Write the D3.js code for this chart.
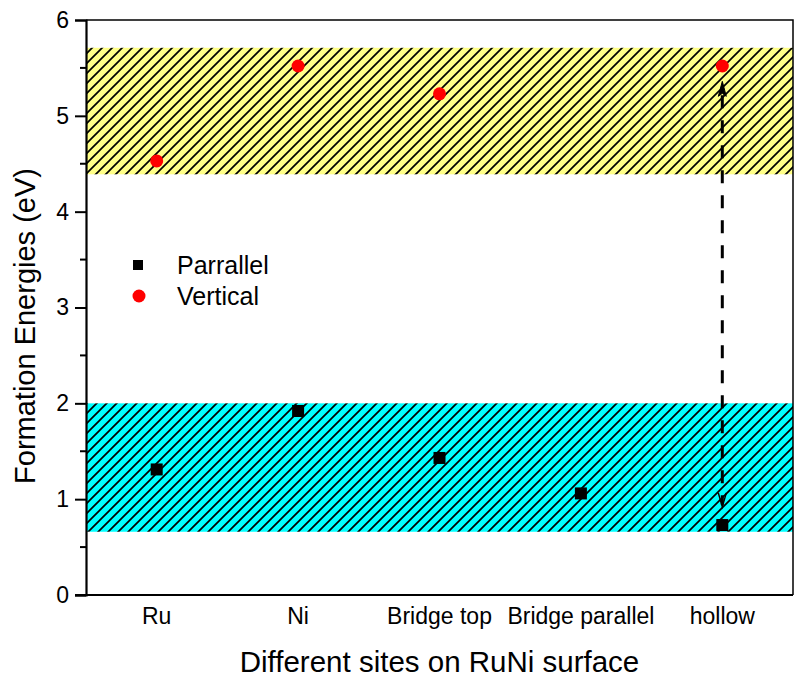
<!DOCTYPE html>
<html>
<head>
<meta charset="utf-8">
<script src="https://cdn.jsdelivr.net/npm/d3@7"></script>
<style>
  body { margin: 0; background: #fff; }
  svg { display: block; font-family: "Liberation Sans", Arial, sans-serif; }
</style>
</head>
<body>
<div id="display"></div>
<script>
// chart values
const sites = ["Ru", "Ni", "Bridge top", "Bridge parallel", "hollow"]
const parallelValues = [1.31, 1.92, 1.43, 1.06, 0.73]
const verticalSites = ["Ru", "Ni", "Bridge top", "hollow"]
const verticalValues = [4.53, 5.52, 5.23, 5.52]
const bands = [
  { lo: 4.39, hi: 5.71, color: "#ffff88" },
  { lo: 0.66, hi: 2.0, color: "#00ffff" }
]
const arrowSite = "hollow"
const arrowLo = 0.92
const arrowHi = 5.36
const yTicks = [0, 1, 2, 3, 4, 5, 6]
const yMinorTicks = [0.5, 1.5, 2.5, 3.5, 4.5, 5.5]

const width = 795, height = 686
const margin = { top: 20, right: 2, bottom: 91, left: 86 }

const svg = d3.select("#display").append("svg")
  .attr("width", width)
  .attr("height", height)

const x = d3.scaleBand().domain(sites).range([margin.left, width - margin.right]).padding(0)
const y = d3.scaleLinear().domain([0, 6]).range([height - margin.bottom, margin.top])
const cx = d => x(d) + x.bandwidth() / 2

const defs = svg.append("defs")
bands.forEach((b, i) => {
  const p = defs.append("pattern")
    .attr("id", "hatch" + i)
    .attr("patternUnits", "userSpaceOnUse")
    .attr("width", 10).attr("height", 10)
  p.append("rect").attr("width", 10).attr("height", 10).attr("fill", b.color)
  p.append("path")
    .attr("d", "M-2,2 l4,-4 M0,10 l10,-10 M8,12 l4,-4")
    .attr("stroke", "#000").attr("stroke-width", 1.7)
})

// shaded bands
svg.selectAll("rect.band")
  .data(bands)
  .enter()
  .append("rect")
    .classed("band", true)
    .attr("x", margin.left)
    .attr("width", width - margin.right - margin.left)
    .attr("y", d => y(d.hi))
    .attr("height", d => y(d.lo) - y(d.hi))
    .attr("fill", (d, i) => `url(#hatch${i})`)

// dashed double arrow
const ax = cx(arrowSite)
const yTop = y(arrowHi), yBot = y(arrowLo)
svg.append("line")
  .attr("x1", ax).attr("x2", ax)
  .attr("y1", yTop + 14).attr("y2", yBot - 2)
  .attr("stroke", "#000").attr("stroke-width", 3)
  .attr("stroke-dasharray", "13,12")
svg.append("path")
  .attr("d", `M${ax},${yTop} L${ax + 4},${yTop + 15} L${ax},${yTop + 12} L${ax - 4},${yTop + 15} Z`)
  .attr("fill", "#000").attr("stroke", "#000").attr("stroke-width", 1)
svg.append("path")
  .attr("d", `M${ax - 4},${yBot - 14} L${ax},${yBot} L${ax + 4},${yBot - 14}`)
  .attr("fill", "none").attr("stroke", "#000").attr("stroke-width", 1.5)

// frame
svg.append("path")
  .attr("d", `M${margin.left},${margin.top} H${width - margin.right} V${height - margin.bottom}`)
  .attr("fill", "none").attr("stroke", "#000").attr("stroke-width", 1.5)

// y axis
const yAxis = svg.append("g")
  .attr("transform", `translate(${margin.left},0)`)
  .call(d3.axisLeft(y).tickValues(yTicks).tickFormat(d3.format("d")).tickSize(11).tickPadding(6))
yAxis.select(".domain").attr("stroke-width", 2.2)
yAxis.selectAll(".tick line").attr("stroke-width", 2)
yAxis.selectAll("text").attr("font-size", 23).attr("fill", "#000")
  .style("font-family", "Liberation Sans, Arial, sans-serif")
yAxis.selectAll("line.minor")
  .data(yMinorTicks)
  .enter()
  .append("line")
    .classed("minor", true)
    .attr("x1", -6).attr("x2", 0)
    .attr("y1", d => y(d)).attr("y2", d => y(d))
    .attr("stroke", "#000").attr("stroke-width", 2)

// x axis
const xAxis = svg.append("g")
  .attr("transform", `translate(0,${height - margin.bottom})`)
  .call(d3.axisBottom(x).tickSize(0).tickPadding(13))
xAxis.select(".domain").attr("stroke-width", 2.2)
  .attr("d", `M${margin.left - 11},0H${width - margin.right}`)
xAxis.selectAll("text").attr("font-size", 23).attr("fill", "#000")
  .style("font-family", "Liberation Sans, Arial, sans-serif")

// points
svg.selectAll("rect.parallel")
  .data(parallelValues)
  .enter()
  .append("rect")
    .classed("parallel", true)
    .attr("x", (d, i) => cx(sites[i]) - 6)
    .attr("y", d => y(d) - 6)
    .attr("width", 12).attr("height", 12)
    .attr("fill", "#000")

svg.selectAll("circle.vertical")
  .data(verticalValues)
  .enter()
  .append("circle")
    .classed("vertical", true)
    .attr("cx", (d, i) => cx(verticalSites[i]))
    .attr("cy", d => y(d))
    .attr("r", 6.5)
    .attr("fill", "#ff0000")

// legend
const legend = svg.append("g").attr("transform", "translate(138,265)")
legend.append("rect").attr("x", -5).attr("y", -5).attr("width", 10).attr("height", 10).attr("fill", "#000")
legend.append("circle").attr("cx", 1).attr("cy", 31).attr("r", 6.5).attr("fill", "#ff0000")
legend.append("text").attr("x", 39).attr("y", 9).attr("font-size", 25).text("Parrallel")
legend.append("text").attr("x", 39).attr("y", 40).attr("font-size", 25).text("Vertical")

// axis titles
svg.append("text")
  .attr("x", (margin.left + width - margin.right) / 2)
  .attr("y", 672)
  .attr("text-anchor", "middle")
  .attr("font-size", 29.5)
  .text("Different sites on RuNi surface")

svg.append("text")
  .attr("transform", `translate(35,326) rotate(-90)`)
  .attr("text-anchor", "middle")
  .attr("font-size", 29)
  .text("Formation Energies (eV)")
</script>
</body>
</html>
